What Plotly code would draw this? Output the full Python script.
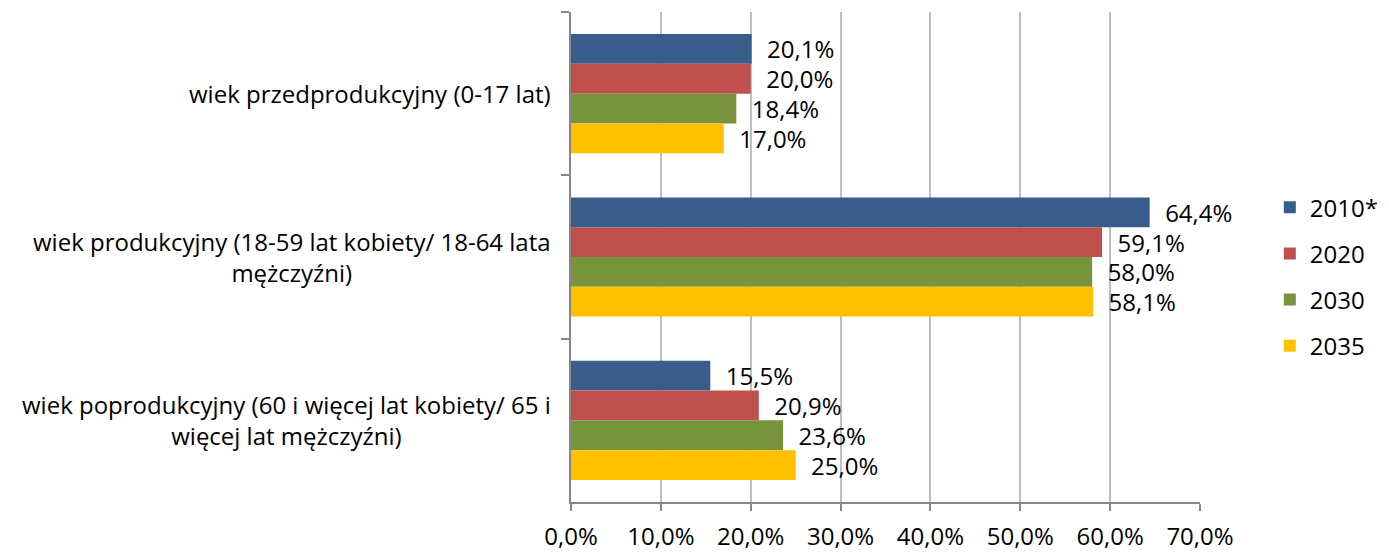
import plotly.graph_objects as go

categories = [
    "wiek przedprodukcyjny (0-17 lat)",
    "wiek produkcyjny (18-59 lat kobiety/ 18-64 lata mężczyźni)",
    "wiek poprodukcyjny (60 i więcej lat kobiety/ 65 i więcej lat mężczyźni)",
]
category_labels = [
    "wiek przedprodukcyjny (0-17 lat)",
    "wiek produkcyjny (18-59 lat kobiety/ 18-64 lata<br>mężczyźni)",
    "wiek poprodukcyjny (60 i więcej lat kobiety/ 65 i<br>więcej lat mężczyźni)",
]
series_names = ["2010*", "2020", "2030", "2035"]
values_2010 = [20.1, 64.4, 15.5]
values_2020 = [20.0, 59.1, 20.9]
values_2030 = [18.4, 58.0, 23.6]
values_2035 = [17.0, 58.1, 25.0]
series_values = [values_2010, values_2020, values_2030, values_2035]
colors = ["#385D8A", "#C0504D", "#77933C", "#FFC000"]
x_ticks = [0, 10, 20, 30, 40, 50, 60, 70]
x_tick_labels = [f"{v:.1f}%".replace(".", ",") for v in x_ticks]

FONT = "Open Sans, Liberation Sans, sans-serif"
FS = 24

fig = go.Figure()
for name, vals, col in zip(series_names, series_values, colors):
    fig.add_trace(go.Bar(
        y=categories, x=vals, name=name, orientation="h",
        marker=dict(color=col, line=dict(width=0)),
        text=vals, texttemplate="\u00a0\u00a0%{x:.1f}%",
        textposition="outside", constraintext="none", cliponaxis=False,
        textfont=dict(family=FONT, size=FS, color="#000000"),
        legendgroup=name,
    ))

for cat, lab in zip(categories, category_labels):
    fig.add_annotation(
        x=0, xref="paper", y=cat, yref="y", text=lab, showarrow=False,
        xanchor="right", yanchor="middle", align="center", xshift=-18,
        font=dict(family=FONT, size=FS, color="#000000"),
    )

fig.update_layout(
    width=1389, height=554,
    margin=dict(l=571, r=189, t=12, b=52, pad=0, autoexpand=False),
    paper_bgcolor="white", plot_bgcolor="white",
    barmode="group", bargap=0.27, bargroupgap=0,
    separators=", ",
    font=dict(family=FONT, size=FS, color="#000000"),
    legend=dict(
        x=1.111, xanchor="left", y=0.46, yanchor="middle",
        traceorder="grouped", tracegroupgap=12,
        font=dict(family=FONT, size=FS, color="#000000"),
        bgcolor="rgba(0,0,0,0)",
    ),
    xaxis=dict(
        range=[0, 70], tickvals=x_ticks, ticktext=x_tick_labels,
        showgrid=True, gridcolor="#BFBFBF", gridwidth=1.5,
        showline=True, linecolor="#868686", linewidth=1.5,
        ticks="outside", ticklen=7, tickcolor="#868686", tickwidth=1.5,
        ticklabelstandoff=5,
        zeroline=False, fixedrange=True, automargin=False,
        tickfont=dict(family=FONT, size=FS, color="#000000"),
    ),
    yaxis=dict(
        type="category", autorange="reversed",
        showticklabels=False, showgrid=False,
        showline=True, linecolor="#868686", linewidth=1.5,
        ticks="outside", tickson="boundaries", ticklen=8,
        tickcolor="#868686", tickwidth=1.5,
        zeroline=False, fixedrange=True, automargin=False,
    ),
)

fig.write_html(
    "out.html",
    config={"displayModeBar": False},
    post_script="document.body.style.margin='0';",
)
